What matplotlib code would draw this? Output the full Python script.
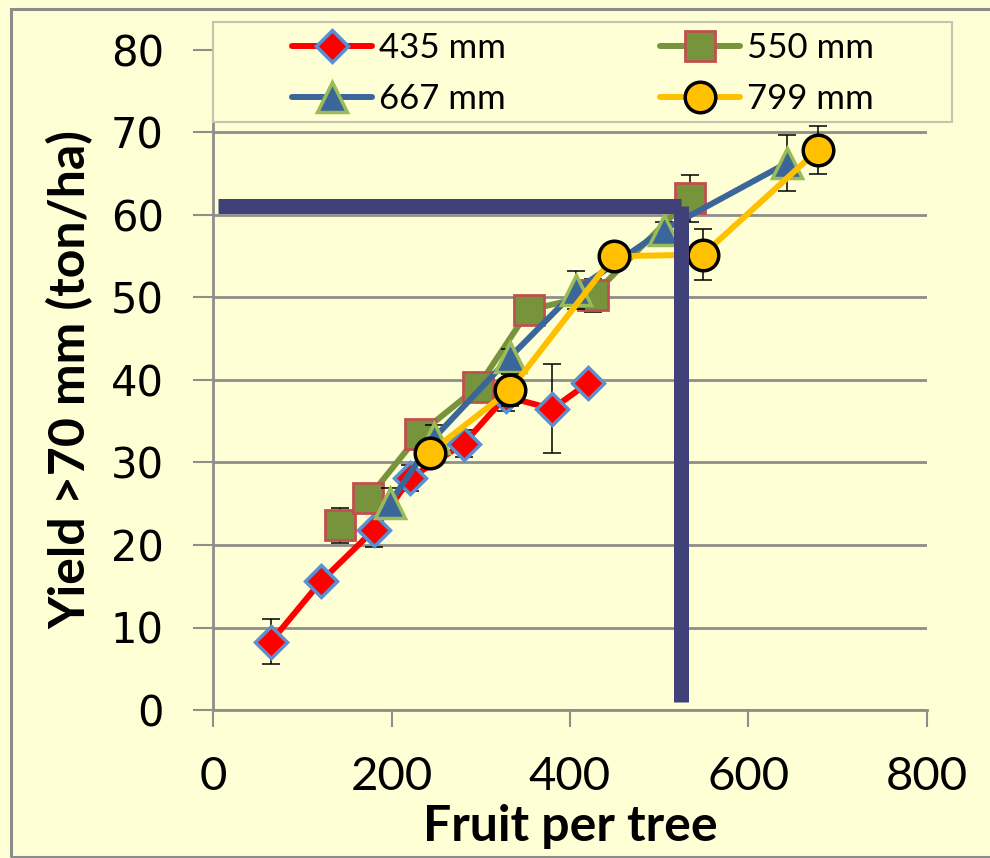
import matplotlib
matplotlib.use("Agg")
import matplotlib.pyplot as plt
from matplotlib.patches import Rectangle

# Yield of fruit larger than 70 mm against crop load, per irrigation amount
x_435 = [65, 121, 180, 221, 281, 328, 380, 420]
y_435 = [8.3, 15.6, 21.8, 28.1, 32.3, 38.0, 36.5, 39.6]
e_435 = [2.7, 0.8, 2.1, 1.6, 1.6, 1.7, 5.4, 0.6]

x_550 = [142, 174, 232, 297, 354, 426, 534]
y_550 = [22.4, 25.7, 33.5, 39.2, 48.5, 50.3, 62.0]
e_550 = [2.1, 0.8, 1.2, 1.0, 0.8, 2.0, 2.9]

x_667 = [198, 248, 333, 407, 505, 643]
y_667 = [25.1, 33.0, 42.8, 50.9, 58.2, 66.3]
e_667 = [1.8, 1.5, 1.0, 2.3, 1.0, 3.4]

x_799 = [243, 333, 449, 549, 678]
y_799 = [31.2, 38.8, 55.0, 55.2, 67.9]
e_799 = [1.2, 1.9, 1.0, 3.1, 2.9]

labels = ["435 mm", "550 mm", "667 mm", "799 mm"]
x_ticks = [0, 200, 400, 600, 800]
y_ticks = [0, 10, 20, 30, 40, 50, 60, 70, 80]

# reading guide: target yield and the crop load needed for it
target_yield = 61.1
target_fruit = 524
guide_x_start = 5.6
guide_y_end = 1.0

BG = "#FFFFD6"
GRID = "#8E8E8A"
NAVY = "#41417A"
CAL = ["Lato", "DejaVu Sans"]

W, H = 990, 858
fig = plt.figure(figsize=(W / 100, H / 100), dpi=100, facecolor=BG)
ax = fig.add_axes([213 / W, 1 - 710 / H, (927 - 213) / W, (710 - 50) / H])
ax.set_facecolor(BG)

styles = [
    dict(color="#FF0000", marker="D", ms=16.5, mfc="#FF0000", mec="#5B8FD0", mew=2.5),
    dict(color="#77933C", marker="s", ms=22, mfc="#77933C", mec="#C0504D", mew=2.0),
    dict(color="#3A6699", marker="^", ms=22, mfc="#3A6699", mec="#9BBB59", mew=2.5),
    dict(color="#FFC000", marker="o", ms=22, mfc="#FFC000", mec="#000000", mew=2.5),
]
series = [(x_435, y_435, e_435), (x_550, y_550, e_550),
          (x_667, y_667, e_667), (x_799, y_799, e_799)]

handles = []
for i, ((xs, ys, es), st) in enumerate(zip(series, styles)):
    z = 3 + i
    ax.errorbar(xs, ys, yerr=es, fmt="none", ecolor="black", elinewidth=1.1,
                capsize=6.8, capthick=1.1, zorder=z)
    ln, = ax.plot(xs, ys, lw=4.3, solid_capstyle="round", solid_joinstyle="round",
                  zorder=z + 0.5, label=labels[i], **st)
    handles.append(ln)

# guide lines
ax.plot([guide_x_start, target_fruit], [target_yield, target_yield], color=NAVY,
        lw=10.8, solid_capstyle="butt", zorder=10, clip_on=False)
ax.plot([target_fruit, target_fruit], [target_yield, guide_y_end], color=NAVY,
        lw=10.8, solid_capstyle="butt", zorder=10, clip_on=False)

ax.set_xlim(0, 800)
ax.set_ylim(0, 80)
ax.set_xticks(x_ticks)
ax.set_yticks(y_ticks)
ax.yaxis.grid(True, color=GRID, lw=2.0)
ax.set_axisbelow(True)
for s in ["top", "right"]:
    ax.spines[s].set_visible(False)
for s in ["left", "bottom"]:
    ax.spines[s].set_color(GRID)
    ax.spines[s].set_linewidth(2.0)

ax.tick_params(axis="y", direction="out", length=14.4, width=1.5, color=GRID,
               pad=21, labelsize=30)
ax.tick_params(axis="x", direction="out", length=12.2, width=1.5, color=GRID,
               pad=21, labelsize=34)
for t in ax.get_yticklabels():
    t.set_family("DejaVu Sans")
for t in ax.get_xticklabels():
    t.set_family(CAL)

ax.set_xlabel("Fruit per tree", family=CAL, fontweight="bold", fontsize=36)
ax.set_ylabel("Yield >70 mm (ton/ha)", family=CAL, fontweight="bold", fontsize=36)
ax.xaxis.set_label_coords(0.5, -0.142)
ax.yaxis.set_label_coords(-0.167, 0.5)

# legend frame and the two legend columns
fig.patches.append(Rectangle((213 / W, 1 - 122 / H), (952 - 213) / W, 100 / H,
                             transform=fig.transFigure, facecolor=BG,
                             edgecolor="#C4C4B0", lw=1.5, zorder=1))
leg_kw = dict(frameon=False, loc="upper left", borderpad=0, borderaxespad=0,
              handlelength=2.3, handletextpad=0.2, labelspacing=0.55,
              prop={"family": CAL, "size": 25})
fig.legend([handles[0], handles[2]], [labels[0], labels[2]],
           bbox_to_anchor=(292 / W, 1 - 32 / H), **leg_kw)
fig.legend([handles[1], handles[3]], [labels[1], labels[3]],
           bbox_to_anchor=(660 / W, 1 - 32 / H), **leg_kw)

# outer chart border
fig.patches.append(Rectangle((11 / W, 1 - 857 / H), 990 / W, 848 / H,
                             transform=fig.transFigure, facecolor="none",
                             edgecolor="#8C8C8C", lw=2.2, zorder=0.5))

fig.savefig("out.png", dpi=100, facecolor=BG)
